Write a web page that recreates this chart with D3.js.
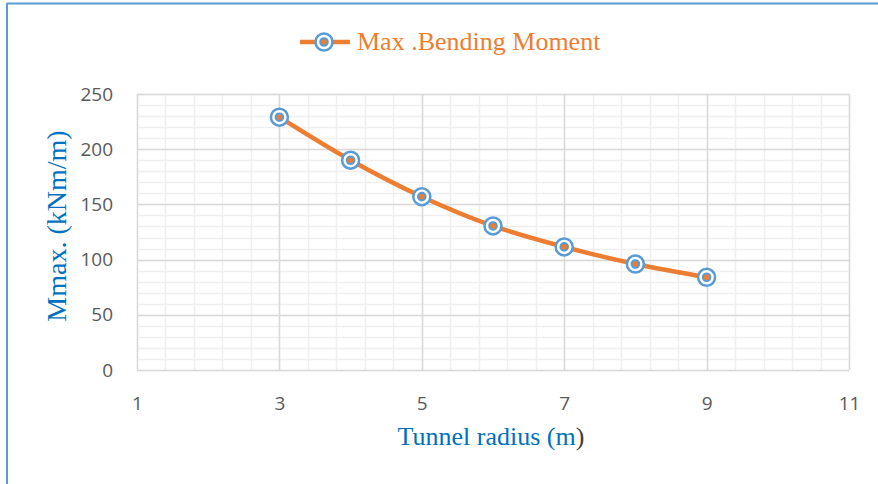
<!DOCTYPE html>
<html>
<head>
<meta charset="utf-8">
<script src="https://cdn.jsdelivr.net/npm/d3@7"></script>
<style>
  html, body { margin: 0; padding: 0; background: #fff; }
  svg { display: block; }
</style>
</head>
<body>
<svg id="chart" width="878" height="484"></svg>
<script>
// Tunnel radius (m) vs. maximum bending moment (kNm/m)
const radius = [3, 4, 5, 6, 7, 8, 9];
const moment = [229, 190, 157, 130.5, 111.5, 96, 84];
const xTicks = [1, 3, 5, 7, 9, 11];
const yTicks = [0, 50, 100, 150, 200, 250];
const seriesName = "Max .Bending Moment";

const svg = d3.select("#chart");
const W = 878, H = 484;
const plot = { left: 137, right: 849, top: 94, bottom: 370 };

const x = d3.scaleLinear().domain([1, 11]).range([plot.left, plot.right]);
const y = d3.scaleLinear().domain([0, 250]).range([plot.bottom, plot.top]);

const orange = "#ED7D31", blue = "#5B9BD5", titleBlue = "#0070C0";

// frame (top and left edges)
svg.append("line").attr("x1", 7).attr("x2", W).attr("y1", 3.5).attr("y2", 3.5)
  .attr("stroke", blue).attr("stroke-width", 2);
svg.append("line").attr("x1", 7).attr("x2", 7).attr("y1", 3).attr("y2", H)
  .attr("stroke", blue).attr("stroke-width", 2);

// minor gridlines
const g = svg.append("g");
const xMinor = d3.range(1, 11.0001, 0.4);
const yMinor = d3.range(0, 250.0001, 10);
g.selectAll(".xm").data(xMinor).join("line")
  .attr("x1", d => Math.round(x(d)) + 0.5).attr("x2", d => Math.round(x(d)) + 0.5)
  .attr("y1", plot.top).attr("y2", plot.bottom)
  .attr("stroke", "#EFEFEF").attr("stroke-width", 1.5);
g.selectAll(".ym").data(yMinor).join("line")
  .attr("y1", d => Math.round(y(d)) + 0.5).attr("y2", d => Math.round(y(d)) + 0.5)
  .attr("x1", plot.left).attr("x2", plot.right)
  .attr("stroke", "#EFEFEF").attr("stroke-width", 1.5);

// major gridlines
g.selectAll(".xM").data(xTicks).join("line")
  .attr("x1", d => Math.round(x(d)) + 0.5).attr("x2", d => Math.round(x(d)) + 0.5)
  .attr("y1", plot.top).attr("y2", plot.bottom)
  .attr("stroke", "#D9D9D9").attr("stroke-width", 1.5);
g.selectAll(".yM").data(yTicks).join("line")
  .attr("y1", d => Math.round(y(d)) + 0.5).attr("y2", d => Math.round(y(d)) + 0.5)
  .attr("x1", plot.left).attr("x2", plot.right)
  .attr("stroke", "#D9D9D9").attr("stroke-width", 1.5);

// axes (labels only)
const tickFont = "'Open Sans', 'Liberation Sans', sans-serif";
const xAxis = svg.append("g").attr("transform", `translate(0,${plot.bottom + 26})`)
  .call(d3.axisBottom(x).tickValues(xTicks).tickSize(0).tickPadding(0));
const yAxis = svg.append("g").attr("transform", `translate(${plot.left - 24},0)`)
  .call(d3.axisLeft(y).tickValues(yTicks).tickSize(0).tickPadding(0));
[xAxis, yAxis].forEach(a => {
  a.select(".domain").remove();
  a.selectAll("text").attr("fill", "#595959")
    .style("font-family", tickFont).style("font-size", "19px");
});
xAxis.selectAll("text").attr("dy", "0.71em");

// series
const line = d3.line().x((d, i) => x(radius[i])).y(d => y(d)).curve(d3.curveCatmullRom.alpha(0.5));
svg.append("path").datum(moment).attr("d", line)
  .attr("fill", "none").attr("stroke", orange).attr("stroke-width", 4.5)
  .attr("stroke-linecap", "round");

function marker(sel) {
  sel.append("circle").attr("r", 8.5).attr("fill", "#fff")
    .attr("stroke", blue).attr("stroke-width", 2.5);
  sel.append("circle").attr("r", 3.8).attr("fill", orange)
    .attr("stroke", blue).attr("stroke-width", 2);
}
svg.selectAll(".pt").data(moment).join("g")
  .attr("transform", (d, i) => `translate(${x(radius[i])},${y(d)})`)
  .call(marker);

// legend
const serif = "'Liberation Serif', 'Times New Roman', serif";
const lg = svg.append("g");
lg.append("line").attr("x1", 300).attr("x2", 350).attr("y1", 42).attr("y2", 42)
  .attr("stroke", orange).attr("stroke-width", 4.5);
lg.append("g").attr("transform", "translate(324,42)").call(marker);
lg.append("text").attr("x", 357).attr("y", 49.5).text(seriesName)
  .attr("fill", orange).style("font-family", serif).style("font-size", "26px");

// axis titles
const xt = svg.append("text").attr("x", 491).attr("y", 445).attr("text-anchor", "middle")
  .style("font-family", serif).style("font-size", "26px").attr("fill", titleBlue);
xt.append("tspan").text("Tunnel radius (m");
xt.append("tspan").text(")").attr("fill", "#404040");

svg.append("text")
  .attr("transform", `translate(65.5,226) rotate(-90)`)
  .attr("text-anchor", "middle")
  .style("font-family", serif).style("font-size", "28px").attr("fill", titleBlue)
  .text("Mmax. (kNm/m)");
</script>
</body>
</html>
